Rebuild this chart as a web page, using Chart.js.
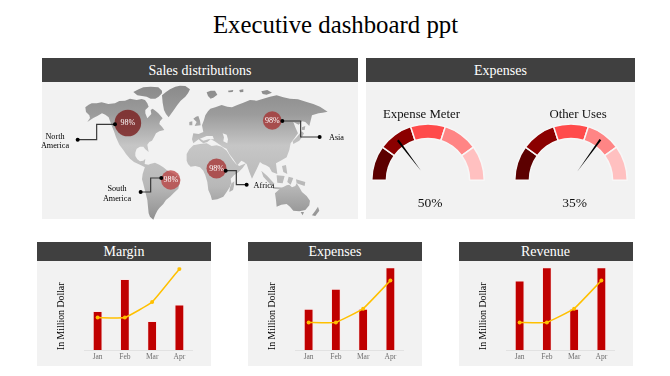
<!DOCTYPE html>
<html><head><meta charset="utf-8">
<script src="https://cdn.jsdelivr.net/npm/chart.js@4"></script>
<style>
html,body{margin:0;padding:0;background:#fff}
#page{position:relative;width:670px;height:376px;overflow:hidden;font-family:"Liberation Serif",serif;color:#111}
.abs{position:absolute}
.hd{position:absolute;background:#404040;color:#fff;text-align:center;white-space:nowrap}
.bd{position:absolute;background:#f2f2f2}
.t{position:absolute;white-space:nowrap;text-align:center;transform:translate(-50%,-50%)}
canvas{position:absolute;display:block}
</style></head><body>
<div id="page">
<div class="t" style="left:335.5px;top:25px;font-size:24.8px;color:#000">Executive dashboard ppt</div>

<div class="bd" style="left:42px;top:82px;width:316px;height:137px"></div>
<div class="hd" style="left:42px;top:58px;width:316px;height:24px;line-height:26px;font-size:14px">Sales distributions</div>
<div class="bd" style="left:366px;top:82px;width:269px;height:137px"></div>
<div class="hd" style="left:366px;top:58px;width:269px;height:24px;line-height:26px;font-size:14px">Expenses</div>

<svg class="abs" style="left:0;top:0" width="670" height="376">
<defs><linearGradient id="mapG" gradientUnits="userSpaceOnUse" x1="0" y1="105" x2="0" y2="510">
<stop offset="0" stop-color="#8a8a8a"/><stop offset=".22" stop-color="#9c9c9c"/><stop offset=".45" stop-color="#c6c6c6"/><stop offset=".75" stop-color="#b8b8b8"/><stop offset="1" stop-color="#8f8f8f"/></linearGradient></defs>
<g transform="translate(30 50) scale(.3333)" fill="url(#mapG)">
<path d="M166 172L176 164 185 160 200 160 215 157 235 162 255 160 268 153 285 152 300 146 320 150 335 147 345 150 352 160 356 170 346 180 346 190 352 205 364 192 362 180 368 176 378 184 385 190 398 205 390 214 388 222 396 230 403 240 388 244 378 250 372 262 366 272 358 276 352 284 356 306 346 298 340 290 330 290 320 296 316 308 316 318 322 328 330 334 340 332 346 326 344 342 362 346 345 352 330 344 312 336 300 326 288 312 280 300 268 284 258 262 252 244 244 224 236 202 226 194 216 190 202 198 190 204 172 216 180 204 178 196 168 186Z"/>
<path d="M310 126L326 118 340 112 362 110 385 112 396 122 396 130 386 140 376 146 362 146 350 140 336 138 322 136Z"/>
<path d="M396 136L408 126 420 118 436 110 450 107 466 108 480 118 474 130 466 140 452 152 442 165 430 182 416 202 408 192 402 180 398 158Z"/>
<path d="M530 127L542 122 555 122 562 134 552 142 542 146 534 138Z"/>
<path d="M594 122L610 120 608 126 596 127ZM628 120L640 118 640 126 630 127ZM694 124L712 120 726 128 710 134 698 132Z"/>
<path d="M490 206L498 200 505 198 510 212 512 226 494 228 500 216ZM478 216L487 214 487 226 478 226Z"/>
<path d="M345 350L360 342 375 338 388 344 400 352 410 360 420 366 436 374 450 386 448 402 445 416 432 428 420 440 408 450 400 462 388 474 382 482 376 494 370 509 360 500 356 490 354 470 352 450 346 426 340 402 336 388 338 372Z"/>
<path d="M470 312L478 298 490 286 510 282 530 280 545 288 560 286 575 290 590 302 600 318 608 330 618 342 628 348 648 340 638 354 626 366 612 376 602 386 604 398 600 410 590 426 580 440 562 448 546 450 542 436 535 420 532 396 526 376 520 362 510 352 496 348 482 350 474 342 470 332Z"/>
<path d="M605 400L613 394 612 408 609 420 598 426 600 412Z"/>
<path d="M486 268L490 250 506 252 520 246 516 226 522 210 526 196 534 184 541 176 556 172 575 165 592 170 606 172 622 165 640 158 660 150 680 152 700 146 720 140 740 136 760 142 780 146 804 148 830 156 850 162 870 170 893 185 878 188 866 190 846 196 842 212 838 228 826 216 816 214 806 224 790 216 796 232 804 250 794 264 782 280 778 300 770 322 756 330 738 340 740 356 742 372 726 366 718 352 708 346 698 342 690 336 680 358 666 386 658 366 650 342 642 336 634 332 622 346 610 328 598 312 590 296 580 292 566 282 554 274 542 268 532 276 520 280 512 274 506 268 490 280Z"/>
<path d="M800 262L815 244 822 250 816 262 808 272 790 282 788 274ZM816 232L826 228 824 240 816 240Z"/>
<path d="M756 348L768 345 772 372 760 366ZM694 362L712 378 734 402 722 404 700 380ZM740 376L764 378 758 400 742 398ZM728 410L772 414 770 420 730 416ZM776 380L790 384 782 404 772 396ZM798 388L826 396 824 408 800 400Z"/>
<path d="M735 430L750 416 770 406 778 404 786 412 796 408 800 400 808 412 816 426 830 438 840 452 838 466 826 480 808 484 790 482 780 470 770 462 754 464 740 470 738 450Z"/>
<path d="M846 496L856 482 864 470 868 482 856 498ZM812 486L822 486 818 496Z"/>
<path d="M510 266L530 258 548 258 552 268 536 268 520 272ZM578 250L590 254 594 268 592 280 580 274 582 262Z" fill="#f2f2f2"/>
</g>
<g id="leaders" transform="translate(30 50) scale(.3333)" fill="none" stroke="#3a3a3a" stroke-width="3.6">
<path d="M255 223H200V269H143"/><path d="M757 213H812V261H869"/><path d="M587 362H619V404H650"/><path d="M394 384H362V426H332"/>
</g>
</svg>

<canvas id="mapChart" width="316" height="137" style="left:42px;top:82px"></canvas>
<svg class="abs" style="left:0;top:0" width="670" height="376">
<g transform="translate(30 50) scale(.3333)" fill="#000">
<circle cx="143" cy="269" r="6"/><circle cx="869" cy="261" r="6"/><circle cx="650" cy="404" r="6"/><circle cx="332" cy="426" r="6"/>
<circle cx="255" cy="223" r="6"/><circle cx="757" cy="213" r="6"/><circle cx="587" cy="362" r="6"/><circle cx="394" cy="384" r="6"/>
</g>
</svg>
<div id="regionText"></div>

<canvas id="g1" width="114" height="58" style="left:371px;top:123px"></canvas>
<canvas id="g2" width="114" height="58" style="left:513.5px;top:123px"></canvas>
<div id="gaugeText"></div>

<div class="bd" style="left:37px;top:261px;width:174px;height:105px"></div>
<div class="hd" style="left:37px;top:242px;width:174px;height:18.5px;line-height:20px;font-size:14px">Margin</div>
<canvas id="c1" width="143" height="104" style="left:50px;top:262px"></canvas>
<div class="bd" style="left:248px;top:261px;width:174px;height:105px"></div>
<div class="hd" style="left:248px;top:242px;width:174px;height:18.5px;line-height:20px;font-size:14px">Expenses</div>
<canvas id="c2" width="143" height="104" style="left:261px;top:262px"></canvas>
<div class="bd" style="left:458.5px;top:261px;width:174px;height:105px"></div>
<div class="hd" style="left:458.5px;top:242px;width:174px;height:18.5px;line-height:20px;font-size:14px">Revenue</div>
<canvas id="c3" width="143" height="104" style="left:472px;top:262px"></canvas>
</div>

<script>
const months = ["Jan","Feb","Mar","Apr"];
const axisTitle = "In Million Dollar";

const marginBars = [2.36,4.3,1.75,2.75];
const marginLine = [1.96,1.96,2.9,4.9];
const expensesBars = [2.5,3.7,2.5,5];
const expensesLine = [1.67,1.67,2.5,4.2];
const revenueBars = [4.2,5,2.5,5];
const revenueLine = [1.67,1.67,2.5,4.2];

const gaugeSegments = [1,1,1,1,1];
const gaugeNames = ["Expense Meter","Other Uses"];
const gaugeLabels = ["50%","35%"];
const needlePositions = [0.294,0.70];

const regionNames = ["North<br>America","Asia","Africa","South<br>America"];
const regionValues = [98,98,98,98];
const regionLon = [-73,97,31.4,-22.5];
const regionLat = [27,29.5,-18.5,-30];

const SERIF = '"Liberation Serif",serif';

/* ---- map bubbles ---- */
const bubbleRadius = [13.3,9.3,10,9.7];
const bubbleColor = ["rgba(122,32,32,.82)","rgba(165,45,45,.75)","rgba(165,45,45,.75)","rgba(185,55,55,.72)"];
const bubbleLabels = {id:"bubbleLabels",afterDatasetsDraw(c){
  const x=c.ctx, m=c.getDatasetMeta(0);
  x.save();x.font="8px "+SERIF;x.fillStyle="#fff";x.textAlign="center";x.textBaseline="middle";
  m.data.forEach((p,i)=>x.fillText(regionValues[i]+"%",p.x,p.y));
  x.restore();
}};
new Chart(document.getElementById("mapChart"),{
  type:"bubble",
  data:{datasets:[{
    data:regionLon.map((lon,i)=>({x:lon,y:regionLat[i],v:regionValues[i]})),
    backgroundColor:bubbleColor,borderWidth:0,clip:false,
    radius:ctx=>bubbleRadius[ctx.dataIndex]
  }]},
  options:{responsive:false,animation:false,events:[],layout:{padding:0,autoPadding:false},
    plugins:{legend:{display:false},tooltip:{enabled:false}},
    scales:{x:{display:false,min:-174.1,max:198},y:{display:false,min:-69,max:68}}},
  plugins:[bubbleLabels]
});
const regionPos=[[55,140.5],[336.5,137.5],[264,186],[117,193]];
document.getElementById("regionText").innerHTML=regionNames.map((n,i)=>
  `<div class="t" style="left:${regionPos[i][0]}px;top:${regionPos[i][1]}px;font-size:8.2px;line-height:9.5px;color:#000">${n}</div>`).join("");

/* ---- gauges ---- */
const gaugeColors=["#5c0000","#8b0000","#ff4b4b","#ff8585","#ffc0c0"];
function gauge(id,idx){
  const needle={id:"needle",afterDatasetsDraw(c){
    const a=c.getDatasetMeta(0).data[0], x=c.ctx, t=Math.PI*(1+needlePositions[idx]);
    const ux=Math.cos(t),uy=Math.sin(t),r0=11,r1=50,w=1.1;
    x.save();x.fillStyle="#000";x.beginPath();
    x.moveTo(a.x+ux*r0,a.y+uy*r0);
    x.lineTo(a.x+ux*r1-uy*w,a.y+uy*r1+ux*w);
    x.lineTo(a.x+ux*r1+uy*w,a.y+uy*r1-ux*w);
    x.closePath();x.fill();x.restore();
  }};
  new Chart(document.getElementById(id),{
    type:"doughnut",
    data:{labels:gaugeColors.map((_,i)=>"S"+(i+1)),datasets:[{data:gaugeSegments,backgroundColor:gaugeColors,borderColor:"#f7f7f7",borderWidth:1.5}]},
    options:{responsive:false,animation:false,events:[],rotation:-90,circumference:180,cutout:"74%",
      layout:{padding:0},plugins:{legend:{display:false},tooltip:{enabled:false}}},
    plugins:[needle]
  });
}
gauge("g1",0);gauge("g2",1);
const gtPos=[[421.5,114,430,202.5],[578,114,574.7,202.5]];
document.getElementById("gaugeText").innerHTML=gaugeNames.map((n,i)=>
  `<div class="t" style="left:${gtPos[i][0]}px;top:${gtPos[i][1]}px;font-size:12.8px">${n}</div>`+
  `<div class="t" style="left:${gtPos[i][2]}px;top:${gtPos[i][3]}px;font-size:13.5px">${gaugeLabels[i]}</div>`).join("");

/* ---- combo charts ---- */
function combo(id,bars,line){
  new Chart(document.getElementById(id),{
    data:{labels:months,datasets:[
      {type:"line",data:line,borderColor:"#ffc000",backgroundColor:"#ffc000",borderWidth:1.5,pointRadius:2,pointBorderWidth:0,tension:.1,order:1},
      {type:"bar",data:bars,backgroundColor:"#c00000",borderColor:"#fbe9e9",borderWidth:1,barPercentage:.36,categoryPercentage:1,order:2}
    ]},
    options:{responsive:false,animation:false,events:[],layout:{padding:{top:5.3,left:0,right:0,bottom:0},autoPadding:false},
      plugins:{legend:{display:false},tooltip:{enabled:false}},
      scales:{
        x:{afterFit(s){s.height=16},grid:{display:false,drawTicks:false,tickLength:0},border:{color:"#e2e2e2",width:1},
           ticks:{color:"#6f6f6f",font:{family:SERIF,size:7.5},padding:3,maxRotation:0}},
        y:{min:0,max:5,afterFit(s){s.width=34},grid:{display:false},border:{display:false},ticks:{display:false},
           title:{display:true,text:axisTitle,align:"start",color:"#000",font:{family:SERIF,size:9.8},padding:{top:6,bottom:0}}}
      }}
  });
}
combo("c1",marginBars,marginLine);
combo("c2",expensesBars,expensesLine);
combo("c3",revenueBars,revenueLine);
</script>
</body></html>
